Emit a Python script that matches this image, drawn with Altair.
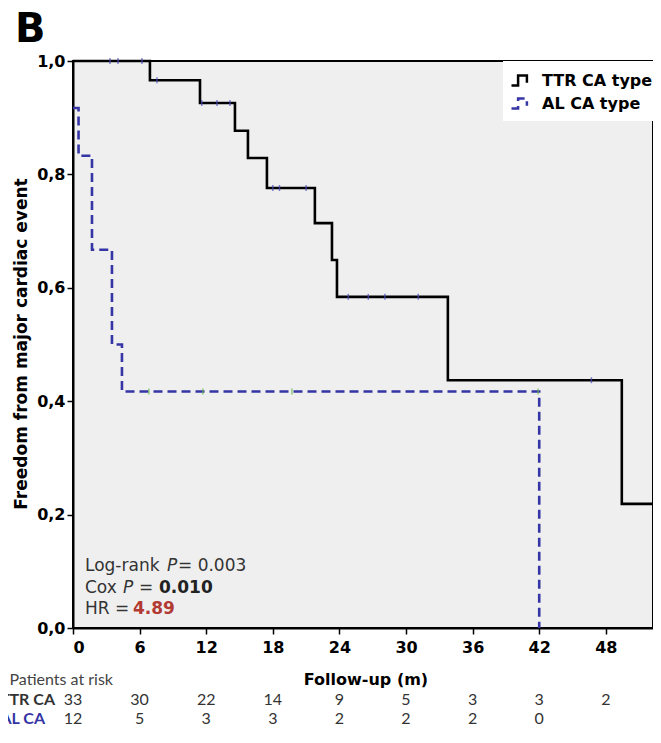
import altair as alt
import pandas as pd

# Kaplan-Meier step curves (months, survival)
ttr_time = [0, 6.93, 11.44, 14.59, 15.76, 17.47, 21.79, 23.33, 23.78, 33.77, 49.44, 52.3]
ttr_surv = [1.0, 0.966, 0.926, 0.877, 0.829, 0.776, 0.714, 0.649, 0.584, 0.437, 0.219, 0.219]
al_time = [0, 0.5, 1.71, 3.51, 4.41, 42.0]
al_surv = [0.917, 0.833, 0.667, 0.5, 0.417, 0.0]

# censor marks
ttr_cens_time = [3.33, 4.05, 6.21, 7.56, 11.6, 12.97, 14.14, 18.0, 18.6, 21.0, 24.8, 26.6, 28.1, 31.1, 46.7]
ttr_cens_surv = [1.0, 1.0, 1.0, 0.966, 0.926, 0.926, 0.926, 0.776, 0.776, 0.776, 0.584, 0.584, 0.584, 0.584, 0.437]
al_cens_time = [6.84, 11.7, 19.72, 41.9]
al_cens_surv = [0.417, 0.417, 0.417, 0.417]

# risk table
risk_months = [0, 6, 12, 18, 24, 30, 36, 42, 48]
ttr_risk = [33, 30, 22, 14, 9, 5, 3, 3, 2]
al_risk = [12, 5, 3, 3, 2, 2, 2, 0]

groups = ["TTR CA type", "AL CA type"]
x_ticks = [0, 6, 12, 18, 24, 30, 36, 42, 48]
y_ticks = [0.0, 0.2, 0.4, 0.6, 0.8, 1.0]

W, H = 580, 567
BLUE = "#3535a5"
FONT = "DejaVu Sans"

curves = pd.DataFrame({
    "time": ttr_time + al_time,
    "surv": ttr_surv + al_surv,
    "group": [groups[0]] * len(ttr_time) + [groups[1]] * len(al_time),
    "ord": list(range(len(ttr_time))) + list(range(len(al_time))),
})

xs = alt.Scale(domain=[0, 52.25], nice=False, zero=False)
ys = alt.Scale(domain=[0, 1], nice=False)

xaxis = alt.Axis(values=x_ticks, title=None, labelPadding=5)
yaxis = alt.Axis(values=y_ticks, title=None, labelPadding=2,
                 labelExpr="replace(format(datum.value, '.1f'), '.', ',')")

leg = alt.Legend(title=None, orient="none", legendX=430, legendY=0, fillColor="white",
                 padding=7, rowPadding=0, labelFont=FONT, labelFontWeight="bold",
                 labelFontSize=16, labelColor="black",
                 symbolType="M-1,0.45H-0.4V-0.45H0.4V0.2", symbolSize=484,
                 symbolStrokeWidth=2.5, labelOffset=7, symbolFillColor="transparent")

lines = alt.Chart(curves).mark_line(interpolate="step-after", strokeWidth=2.6).encode(
    x=alt.X("time:Q", scale=xs, axis=xaxis),
    y=alt.Y("surv:Q", scale=ys, axis=yaxis),
    color=alt.Color("group:N", scale=alt.Scale(domain=groups, range=["#000000", BLUE]), legend=leg),
    strokeDash=alt.StrokeDash("group:N", scale=alt.Scale(domain=groups, range=[[1, 0], [9, 5]]), legend=leg),
    order="ord:Q",
)

cens_ttr = alt.Chart(pd.DataFrame({"time": ttr_cens_time, "surv": ttr_cens_surv})).mark_tick(
    orient="vertical", size=6, thickness=1.5, color="#4a4ac0").encode(x="time:Q", y="surv:Q")
cens_al = alt.Chart(pd.DataFrame({"time": al_cens_time, "surv": al_cens_surv})).mark_tick(
    orient="vertical", size=6, thickness=1.5, color="#66b84a").encode(x="time:Q", y="surv:Q")

one = alt.Data(values=[{}])


def label(txt, x, y, size=16, weight="normal", style="normal", color="black", align="left",
          baseline="alphabetic", font=FONT, angle=0):
    return alt.Chart(one).mark_text(text=txt, fontSize=size, fontWeight=weight, fontStyle=style,
                                     color=color, align=align, baseline=baseline, font=font,
                                     angle=angle).encode(x=alt.value(x), y=alt.value(y))


ann_col = "#333333"
ROW0, ROW1, ROW2 = 619, 639, 658
texts = [
    label("B", -58, -19, size=40, weight="bold"),
    label("Freedom from major cardiac event", -51, 283, size=17, weight="bold", align="center",
          baseline="middle", angle=270),
    label("Follow-up (m)", 293, ROW0, size=16, weight="bold", align="center", baseline="middle"),
    label("Log-rank ", 12, 510, size=17, color=ann_col),
    label("P", 94, 510, size=17, style="italic", color=ann_col),
    label("= 0.003", 105, 510, size=17, color=ann_col),
    label("Cox", 12, 532, size=17, color=ann_col),
    label("P", 50, 532, size=17, style="italic", color=ann_col),
    label("=", 66, 532, size=17, color=ann_col),
    label("0.010", 86, 532, size=17, weight="bold", color="#222222"),
    label("HR", 12, 553, size=17, color=ann_col),
    label("=", 42, 553, size=17, color=ann_col),
    label("4.89", 60, 553, size=17, weight="bold", color="#b23a32"),
    label("Patients at risk", 40, ROW0, size=16, color="#444444", align="right", baseline="middle", font="Lato"),
    label("TTR CA", -18, ROW1, size=16, weight="bold", color="#333333", align="right", baseline="middle", font="Lato"),
    label("AL CA", -28, ROW2, size=16, weight="bold", color=BLUE, align="right", baseline="middle", font="Lato"),
]

risk_ttr = alt.Chart(pd.DataFrame({"m": risk_months, "n": ttr_risk})).mark_text(
    fontSize=16, font="Lato", color="#333333", baseline="middle").encode(
    x=alt.X("m:Q"), y=alt.value(ROW1), text="n:Q")
risk_al = alt.Chart(pd.DataFrame({"m": risk_months[:len(al_risk)], "n": al_risk})).mark_text(
    fontSize=16, font="Lato", color="#333333", baseline="middle").encode(
    x=alt.X("m:Q"), y=alt.value(ROW2), text="n:Q")

chart = alt.layer(lines, cens_ttr, cens_al, risk_ttr, risk_al, *texts).properties(
    width=W, height=H,
    autosize=alt.AutoSizeParams(type="none"),
    padding={"left": 65, "top": 53, "right": 0, "bottom": 102},
).configure_view(
    fill="#efefef", stroke="black", strokeWidth=2
).configure_axis(
    domainColor="black", domainWidth=2, tickColor="black", tickWidth=1.5, tickSize=6,
    labelFont=FONT, labelFontWeight="bold", labelFontSize=16, labelColor="black",
    grid=False, zindex=1,
)

chart.save("out.html", embed_options={"renderer": "svg", "actions": False})
